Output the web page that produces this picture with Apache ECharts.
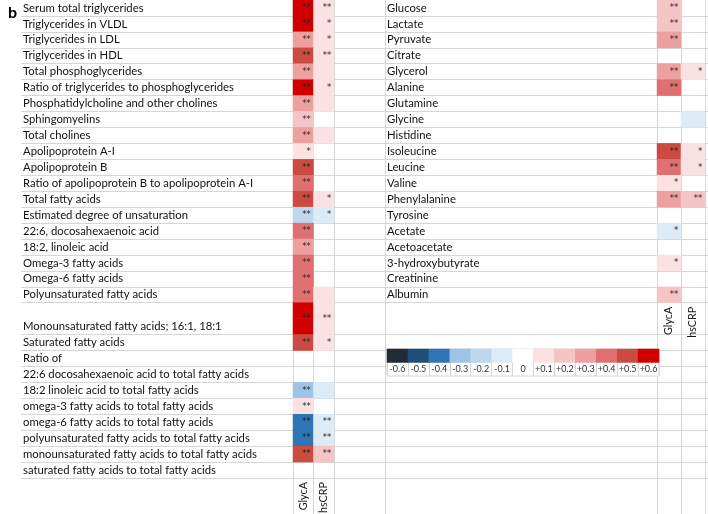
<!DOCTYPE html>
<html>
<head>
<meta charset="utf-8">
<title>GlycA and hsCRP correlations</title>
<script src="https://cdn.jsdelivr.net/npm/echarts@6/dist/echarts.min.js"></script>
<style>
  html, body { margin: 0; padding: 0; background: #fff; }
  #main { width: 708px; height: 514px; }
</style>
</head>
<body>
<div id="main"></div>
<script>
// ---- data ----
var columns = ['GlycA', 'hsCRP'];

var lipidRows = [
  'Serum total triglycerides', 'Triglycerides in VLDL', 'Triglycerides in LDL',
  'Triglycerides in HDL', 'Total phosphoglycerides', 'Ratio of triglycerides to phosphoglycerides',
  'Phosphatidylcholine and other cholines', 'Sphingomyelins', 'Total cholines',
  'Apolipoprotein A-I', 'Apolipoprotein B', 'Ratio of apolipoprotein B to apolipoprotein A-I',
  'Total fatty acids', 'Estimated degree of unsaturation', '22:6, docosahexaenoic acid',
  '18:2, linoleic acid', 'Omega-3 fatty acids', 'Omega-6 fatty acids',
  'Polyunsaturated fatty acids', 'Monounsaturated fatty acids; 16:1, 18:1', 'Saturated fatty acids',
  'Ratio of', '22:6 docosahexaenoic acid to total fatty acids', '18:2 linoleic acid to total fatty acids',
  'omega-3 fatty acids to total fatty acids', 'omega-6 fatty acids to total fatty acids',
  'polyunsaturated fatty acids to total fatty acids', 'monounsaturated fatty acids to total fatty acids',
  'saturated fatty acids to total fatty acids'
];
var lipidGlycA = [0.6, 0.6, 0.3, 0.5, 0.3, 0.6, 0.3, 0.2, 0.3, 0.1, 0.5, 0.4, 0.5, -0.2, 0.4,
  0.3, 0.4, 0.4, 0.4, 0.6, 0.5, null, 0, -0.3, 0.1, -0.4, -0.4, 0.5, 0];
var lipidHsCRP = [0.1, 0.1, 0.1, 0.1, 0.1, 0.1, 0.1, 0, 0.1, 0, 0, 0, 0.1, -0.1, 0,
  0, 0, 0, 0.1, 0.1, 0.1, null, 0, -0.1, 0, -0.1, -0.1, 0.2, 0];
var lipidStarsGlycA = ['**', '**', '**', '**', '**', '**', '**', '**', '**', '*', '**', '**', '**', '**', '**',
  '**', '**', '**', '**', '**', '**', '', '', '**', '**', '**', '**', '**', ''];
var lipidStarsHsCRP = ['**', '*', '*', '**', '', '*', '', '', '', '', '', '', '*', '*', '',
  '', '', '', '', '**', '*', '', '', '', '', '**', '**', '**', ''];

var metabRows = ['Glucose', 'Lactate', 'Pyruvate', 'Citrate', 'Glycerol', 'Alanine', 'Glutamine',
  'Glycine', 'Histidine', 'Isoleucine', 'Leucine', 'Valine', 'Phenylalanine', 'Tyrosine',
  'Acetate', 'Acetoacetate', '3-hydroxybutyrate', 'Creatinine', 'Albumin'];
var metabGlycA = [0.2, 0.2, 0.3, 0, 0.3, 0.4, 0, 0, 0, 0.5, 0.4, 0.1, 0.3, 0, -0.1, 0, 0.1, 0, 0.2];
var metabHsCRP = [0, 0, 0, 0, 0.1, 0, 0, -0.1, 0, 0.1, 0.1, 0, 0.2, 0, 0, 0, 0, 0, 0];
var metabStarsGlycA = ['**', '**', '**', '', '**', '**', '', '', '', '**', '**', '*', '**', '', '*', '', '*', '', '**'];
var metabStarsHsCRP = ['', '', '', '', '*', '', '', '', '', '*', '*', '', '**', '', '', '', '', '', ''];

var scaleValues = [-0.6, -0.5, -0.4, -0.3, -0.2, -0.1, 0, 0.1, 0.2, 0.3, 0.4, 0.5, 0.6];
var scaleLabels = ['-0.6', '-0.5', '-0.4', '-0.3', '-0.2', '-0.1', '0', '+0.1', '+0.2', '+0.3', '+0.4', '+0.5', '+0.6'];
var scaleColors = ['#232b36', '#1f4e79', '#2e75b6', '#9dc3e6', '#bdd7ee', '#ddebf7', '#ffffff',
  '#fbe1e1', '#f5c4c4', '#eea0a0', '#e07070', '#cc4b40', '#d00000'];

// ---- sheet layout: one tall row shared by both blocks ----
var tallRow = 'Monounsaturated fatty acids; 16:1, 18:1';
var SLOTS = 33;
var SLOT = 478 / 30;
var H = SLOT * SLOTS;
var FONT = 'Lato';
var LINE = '#d6d6d6';

var leftCats = [];
var leftSlot = [];
lipidRows.forEach(function (name, i) {
  if (name === tallRow) leftCats.push('');
  leftCats.push(name);
  leftSlot[i] = leftCats.length - 1;
});
var tallSlot = leftSlot[lipidRows.indexOf(tallRow)];
var headerSlot = leftCats.length;   // bottom header of the left block
while (leftCats.length < SLOTS) leftCats.push('');

var rightCats = metabRows.slice();
var rightHeaderSlot = rightCats.length;
while (rightCats.length < SLOTS) rightCats.push('');

function cells(rows, slots, valueCols, starCols) {
  var out = [];
  rows.forEach(function (name, i) {
    valueCols.forEach(function (vals, c) {
      var v = vals[i];
      if (v === null || v === 0) return;
      var item = { value: [c, slots[i], v], star: starCols[c][i] };
      if (name === tallRow) {
        item.label = { offset: [0, -SLOT / 2] };
        out.push({ value: [c, slots[i] - 1, v], star: '' });
      }
      out.push(item);
    });
  });
  return out;
}

var leftData = cells(lipidRows, leftSlot, [lipidGlycA, lipidHsCRP], [lipidStarsGlycA, lipidStarsHsCRP]);
var rightData = cells(metabRows, metabRows.map(function (d, i) { return i; }),
  [metabGlycA, metabHsCRP], [metabStarsGlycA, metabStarsHsCRP]);
var scaleData = scaleValues.map(function (v, i) { return [i, 0, v]; });

var pieces = scaleValues.map(function (v, i) {
  return { gte: v - 0.05, lt: v + 0.05, color: scaleColors[i] };
});

var starLabel = {
  show: true, position: 'insideRight', distance: 3, fontSize: 8.5, color: '#222',
  fontFamily: 'DejaVu Sans', formatter: function (p) { return p.data.star; }
};

var colLabel = {
  rotate: 90, margin: 4, fontSize: 10.8, color: '#1a1a1a', fontFamily: FONT, interval: 0
};

var option = {
  animation: false,
  backgroundColor: '#fff',
  title: {
    text: 'b', left: 3, top: 0,
    textStyle: { fontSize: 16, fontWeight: 'bold', color: '#000', fontFamily: FONT }
  },
  grid: [
    { left: 21, right: 0, top: 0, height: H, outerBoundsMode: 'none' },
    { left: 293, width: 41, top: 0, height: H, outerBoundsMode: 'none' },
    { left: 385, width: 272, top: 0, height: H, outerBoundsMode: 'none' },
    { left: 657, width: 48, top: 0, height: H, outerBoundsMode: 'none' },
    { left: 387, width: 272, top: 349, height: 27, show: true, z: 5, outerBoundsMode: 'none',
      backgroundColor: '#fff', borderColor: LINE, borderWidth: 1 }
  ],
  xAxis: [
    { gridIndex: 0, type: 'category', data: [''], show: false },
    { gridIndex: 1, type: 'category', data: columns, position: 'bottom',
      offset: -(SLOTS - headerSlot) * SLOT,
      axisLine: { show: false }, axisTick: { show: false }, axisLabel: colLabel,
      splitLine: { show: true, lineStyle: { color: LINE } } },
    { gridIndex: 2, type: 'category', data: [''],
      axisLine: { show: false }, axisTick: { show: false }, axisLabel: { show: false },
      splitLine: { show: true, lineStyle: { color: LINE } } },
    { gridIndex: 3, type: 'category', data: columns, position: 'bottom',
      offset: -(SLOTS - rightHeaderSlot) * SLOT,
      axisLine: { show: false }, axisTick: { show: false }, axisLabel: colLabel,
      splitLine: { show: true, lineStyle: { color: LINE } } },
    { gridIndex: 4, type: 'category', data: scaleLabels, position: 'bottom', z: 5,
      axisLine: { show: false }, axisTick: { show: false },
      axisLabel: { inside: true, margin: 2, fontSize: 9, color: '#333', fontFamily: FONT, interval: 0 },
      splitLine: { show: true, lineStyle: { color: LINE } } }
  ],
  yAxis: [
    { gridIndex: 0, type: 'category', data: leftCats, inverse: true,
      axisLine: { show: false }, axisTick: { show: false }, axisLabel: { show: false },
      splitLine: {
        show: true, lineStyle: { color: LINE },
        interval: function (idx) {
          return !(idx === 0 || idx === tallSlot || idx > headerSlot);
        }
      } },
    { gridIndex: 1, type: 'category', data: leftCats, inverse: true,
      axisLine: { show: false }, axisTick: { show: false },
      axisLabel: { align: 'left', margin: 270, fontSize: 11.3, color: '#111', fontFamily: FONT, interval: 0 },
      splitLine: { show: false } },
    { gridIndex: 2, type: 'category', data: rightCats, inverse: true,
      axisLine: { show: false }, axisTick: { show: false },
      axisLabel: { inside: true, margin: 2, fontSize: 11.3, color: '#111', fontFamily: FONT, interval: 0 },
      splitLine: { show: false } },
    { gridIndex: 3, type: 'category', data: rightCats, inverse: true, show: false },
    { gridIndex: 4, type: 'category', data: ['colour', 'value'], inverse: true, show: false }
  ],
  visualMap: {
    type: 'piecewise', show: false, dimension: 2, seriesIndex: [0, 1, 2], pieces: pieces
  },
  series: [
    { type: 'heatmap', xAxisIndex: 1, yAxisIndex: 1, data: leftData, label: starLabel },
    { type: 'heatmap', xAxisIndex: 3, yAxisIndex: 3, data: rightData, label: starLabel },
    { type: 'heatmap', xAxisIndex: 4, yAxisIndex: 4, data: scaleData, z: 6 }
  ]
};

var chart = echarts.init(document.getElementById('main'));
chart.setOption(option);
</script>
</body>
</html>
